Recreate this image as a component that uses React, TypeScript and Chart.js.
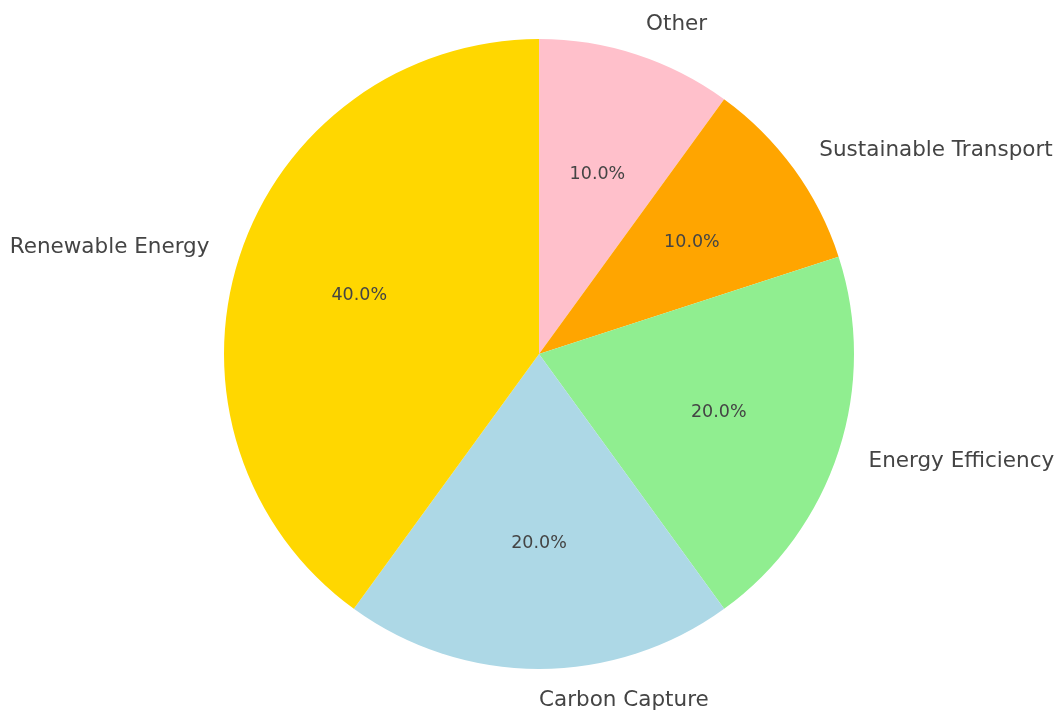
import React, { useEffect, useRef } from "react";
import { Chart, registerables } from "chart.js";

Chart.register(...registerables);

// Clockwise from 12 o'clock
const categories = ["Other", "Sustainable Transport", "Energy Efficiency", "Carbon Capture", "Renewable Energy"];
const shares = [10, 10, 20, 20, 40];
const colors = ["#FFC0CB", "#FFA500", "#90EE90", "#ADD8E6", "#FFD700"];

const FONT = "'DejaVu Sans', sans-serif";
const TEXT = "#444444";

const pieLabels = {
  id: "pieLabels",
  afterDatasetsDraw(chart: any) {
    const ctx = chart.ctx;
    const meta = chart.getDatasetMeta(0);
    const total = shares.reduce((a, b) => a + b, 0);
    ctx.save();
    ctx.fillStyle = TEXT;
    meta.data.forEach((arc: any, i: number) => {
      const { x, y, startAngle, endAngle, outerRadius } = arc.getProps(
        ["x", "y", "startAngle", "endAngle", "outerRadius"],
        true
      );
      const mid = (startAngle + endAngle) / 2;
      const c = Math.cos(mid);
      const s = Math.sin(mid);
      // outer label
      ctx.font = `21.5px ${FONT}`;
      ctx.textBaseline = "middle";
      ctx.textAlign = c > -1e-6 ? "left" : "right";
      ctx.fillText(categories[i], x + c * outerRadius * 1.1, y + s * outerRadius * 1.1);
      // percentage
      ctx.font = `17.5px ${FONT}`;
      ctx.textAlign = "center";
      const pct = ((shares[i] / total) * 100).toFixed(1) + "%";
      ctx.fillText(pct, x + c * outerRadius * 0.6, y + s * outerRadius * 0.6);
    });
    ctx.restore();
  },
};

export default function App() {
  const ref = useRef<HTMLCanvasElement | null>(null);
  useEffect(() => {
    if (!ref.current) return;
    const chart = new Chart(ref.current, {
      type: "pie",
      data: {
        labels: categories,
        datasets: [
          {
            data: shares,
            backgroundColor: colors,
            borderWidth: 0,
            hoverOffset: 0,
            offset: 0,
          },
        ],
      },
      options: {
        responsive: false,
        animation: false,
        rotation: 0,
        radius: 315,
        layout: { padding: { left: 20, right: 0, top: 39, bottom: 44 } },
        plugins: {
          legend: { display: false },
          tooltip: { enabled: false },
          title: { display: false },
        },
      },
      plugins: [pieLabels],
    });
    return () => chart.destroy();
  }, []);
  return (
    <div style={{ position: "fixed", left: 0, top: 0, width: 1058, height: 713, background: "#fff" }}>
      <canvas ref={ref} width={1058} height={713} style={{ width: 1058, height: 713 }} />
    </div>
  );
}
